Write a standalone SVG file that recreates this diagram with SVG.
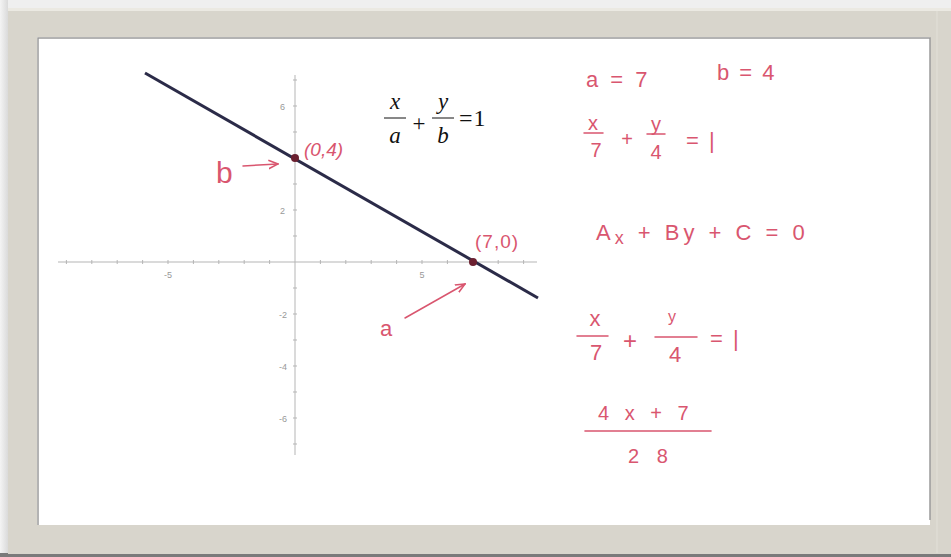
<svg xmlns="http://www.w3.org/2000/svg" width="951" height="557" viewBox="0 0 951 557">
<defs>
<style>
.hw{font-family:"Liberation Sans","DejaVu Sans",sans-serif;fill:#d9566f;}
.hwl{stroke:#d9566f;stroke-width:1.5;fill:none;stroke-linecap:round;}
.tm{font-family:"Liberation Serif","Times New Roman",serif;fill:#111;}
.tl{font-family:"Liberation Sans",sans-serif;font-size:9px;fill:#999;}
.ax{stroke:#b5b5b5;stroke-width:1;}
</style>
<marker id="ah" viewBox="0 0 10 10" refX="9" refY="5" markerWidth="7" markerHeight="7" orient="auto">
<path d="M0,1 L9,5 L0,9" fill="none" stroke="#d9566f" stroke-width="1.5"/>
</marker>
<linearGradient id="lg" x1="0" x2="1" y1="0" y2="0">
<stop offset="0" stop-color="#f4f4f4"/><stop offset="1" stop-color="#dadada"/>
</linearGradient>
</defs>
<rect width="951" height="557" fill="#efefef"/>
<rect x="0" y="0" width="8" height="557" fill="url(#lg)"/>
<rect x="0" y="553" width="951" height="4" fill="#7a7a7a"/>
<g id="frame">
<rect x="8" y="8" width="943" height="546" fill="#d8d5cc"/>
<rect x="8" y="8" width="943" height="3" fill="#ebe9e2"/>
<line x1="937" y1="11" x2="937" y2="553" stroke="#e2e0d8" stroke-width="1"/>
<rect x="37" y="37" width="893" height="488" fill="#ffffff"/>
<path d="M38,525 L38,38 L930,38 L930,520" fill="none" stroke="#9a9a9a" stroke-width="1.5"/>
</g>
<g id="axes">
<line class="ax" x1="58" y1="262" x2="537" y2="262"/>
<line class="ax" x1="295" y1="75" x2="295" y2="455"/>
<path class="ax" d="M66.4,260v4M91.8,260v4M117.2,260v4M142.6,260v4M168,260v4M193.4,260v4M218.8,260v4M244.2,260v4M269.6,260v4M320.4,260v4M345.8,260v4M371.2,260v4M396.6,260v4M422,260v4M447.4,260v4M472.8,260v4M498.2,260v4M523.6,260v4"/>
<path class="ax" d="M293,80h4M293,106h4M293,132h4M293,158h4M293,184h4M293,210h4M293,236h4M293,288h4M293,314h4M293,340h4M293,366h4M293,392h4M293,418h4M293,444h4"/>
<text class="tl" x="168" y="278" text-anchor="middle">-5</text>
<text class="tl" x="422" y="278" text-anchor="middle">5</text>
<text class="tl" x="285" y="110" text-anchor="end">6</text>
<text class="tl" x="285" y="214" text-anchor="end">2</text>
<text class="tl" x="287" y="318" text-anchor="end">-2</text>
<text class="tl" x="287" y="370" text-anchor="end">-4</text>
<text class="tl" x="287" y="422" text-anchor="end">-6</text>
</g>
<g id="line">
<line x1="145" y1="73" x2="538" y2="298" stroke="#2b2b48" stroke-width="3"/>
<circle cx="295" cy="158" r="4" fill="#6b2030"/>
<circle cx="473" cy="262" r="4" fill="#6b2030"/>
</g>
<g id="formula">
<text class="tm" x="395" y="109" font-size="23" font-style="italic" text-anchor="middle">x</text>
<line x1="384" y1="118" x2="406" y2="118" stroke="#111" stroke-width="1"/>
<text class="tm" x="395" y="143" font-size="23" font-style="italic" text-anchor="middle">a</text>
<text class="tm" x="419" y="131" font-size="23" text-anchor="middle">+</text>
<text class="tm" x="443" y="109" font-size="23" font-style="italic" text-anchor="middle">y</text>
<line x1="432" y1="118" x2="454" y2="118" stroke="#111" stroke-width="1"/>
<text class="tm" x="443" y="143" font-size="23" font-style="italic" text-anchor="middle">b</text>
<text class="tm" x="459" y="126" font-size="24" letter-spacing="1">=1</text>
</g>
<g id="annotations-left">
<text class="hw" x="216" y="183" font-size="30">b</text>
<line class="hwl" x1="243" y1="166" x2="278" y2="164" marker-end="url(#ah)"/>
<text class="hw" x="304" y="156" font-size="19" font-style="italic">(0,4)</text>
<text class="hw" x="475" y="248" font-size="19" letter-spacing="1">(7,0)</text>
<text class="hw" x="380" y="336" font-size="22">a</text>
<line class="hwl" x1="405" y1="318" x2="465" y2="284" marker-end="url(#ah)"/>
</g>
<g id="annotations-right">
<text class="hw" x="586" y="87" font-size="22" letter-spacing="3">a = 7</text>
<text class="hw" x="717" y="80" font-size="22" letter-spacing="2">b = 4</text>
<text class="hw" x="593" y="130" font-size="20" text-anchor="middle">x</text>
<line class="hwl" x1="584" y1="133" x2="603" y2="133"/>
<text class="hw" x="596" y="157" font-size="20" text-anchor="middle">7</text>
<text class="hw" x="627" y="146" font-size="20" text-anchor="middle">+</text>
<text class="hw" x="656" y="131" font-size="20" text-anchor="middle">y</text>
<line class="hwl" x1="647" y1="134" x2="665" y2="134"/>
<text class="hw" x="656" y="159" font-size="20" text-anchor="middle">4</text>
<text class="hw" x="686" y="148" font-size="22" letter-spacing="2">= |</text>
<text class="hw" x="596" y="240" font-size="22" letter-spacing="4">A<tspan font-size="18" dy="4">x</tspan><tspan dy="-4"> + By + C = 0</tspan></text>
<text class="hw" x="595" y="326" font-size="22" text-anchor="middle">x</text>
<line class="hwl" x1="577" y1="336" x2="608" y2="336"/>
<text class="hw" x="596" y="360" font-size="22" text-anchor="middle">7</text>
<text class="hw" x="630" y="349" font-size="24" text-anchor="middle">+</text>
<text class="hw" x="672" y="322" font-size="16" text-anchor="middle">y</text>
<line class="hwl" x1="655" y1="337" x2="697" y2="337"/>
<text class="hw" x="675" y="362" font-size="22" text-anchor="middle">4</text>
<text class="hw" x="710" y="346" font-size="22" letter-spacing="2">= |</text>
<text class="hw" x="598" y="420" font-size="20" letter-spacing="5">4 x + 7</text>
<line x1="585" y1="431" x2="711" y2="431" stroke="#d9566f" stroke-width="1.6" stroke-linecap="round"/>
<text class="hw" x="628" y="463" font-size="20" letter-spacing="6">2 8</text>
</g>
</svg>
